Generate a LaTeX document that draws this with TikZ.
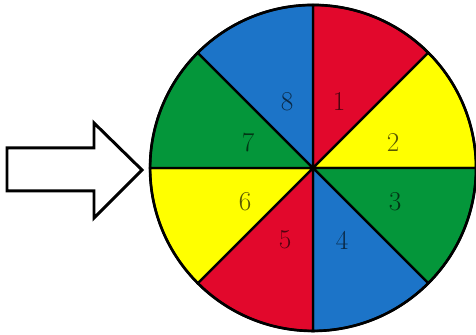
\documentclass[tikz,border=0pt]{standalone}
\definecolor{wheelred}{RGB}{226,8,44}
\definecolor{wheelyellow}{RGB}{255,255,0}
\definecolor{wheelgreen}{RGB}{4,150,58}
\definecolor{wheelblue}{RGB}{28,116,200}
\begin{document}
\begin{tikzpicture}[scale=0.02,
  sector/.style={draw=black, line width=1.3pt},
  num/.style={font=\fontsize{15.5}{17}\selectfont, inner sep=0pt}]
  \useasboundingbox (0,0) rectangle (476,335);

  % pointer
  \draw[line width=1.7pt, fill=white] (7,187) -- (94,187) -- (94,212) -- (142,165)
    -- (94,117) -- (94,144) -- (7,144) -- cycle;

  % wheel
  \coordinate (c) at (313,167);
  \foreach \n/\col in {1/wheelred,2/wheelyellow,3/wheelgreen,4/wheelblue,
                       5/wheelred,6/wheelyellow,7/wheelgreen,8/wheelblue}
    \filldraw[sector, fill=\col] (c) -- ++({135-45*\n}:163)
      arc[start angle={135-45*\n}, end angle={90-45*\n}, radius=163] -- cycle;
  \draw[line width=1.5pt] (c) circle[radius=163];

  % numbers
  \foreach \n/\dx/\dy/\col in {1/26/66/wheelred,2/80/25/wheelyellow,3/82/-34/wheelgreen,
                               4/29/-72/wheelblue,5/-28/-72/wheelred,6/-68/-34/wheelyellow,
                               7/-65/25/wheelgreen,8/-26/66/wheelblue}
    \node[num, text=\col!35!black] (num\n) at ([shift={(\dx,\dy)}]c) {\n};
\end{tikzpicture}
\end{document}
